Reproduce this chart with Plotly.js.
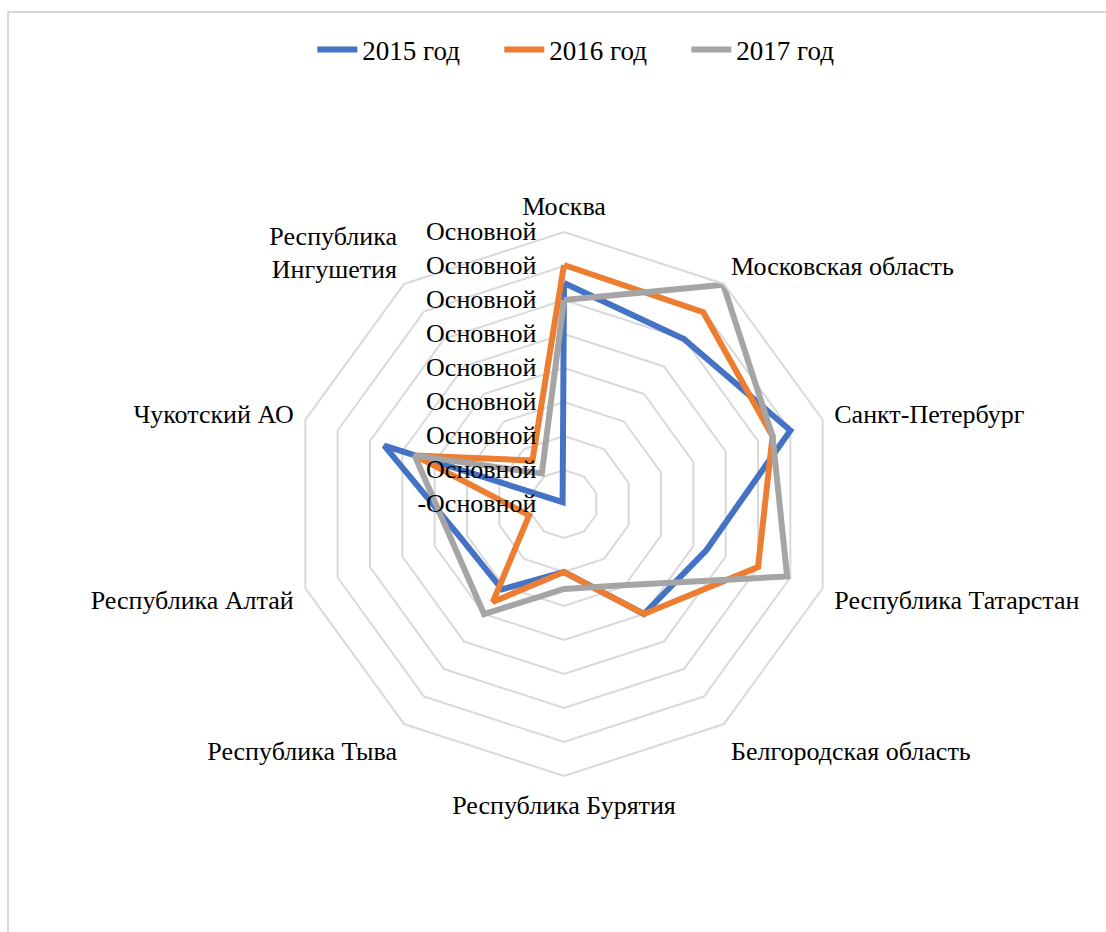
<!DOCTYPE html>
<html>
<head>
<meta charset="utf-8">
<script src="https://cdn.plot.ly/plotly-3.0.1.min.js"></script>
<style>
  html, body { margin:0; padding:0; background:#fff; overflow:hidden; }
  #frame { position:absolute; left:7px; top:11px; width:1200px; height:1000px; border:2px solid #d9d9d9; }
  #chart { position:absolute; left:0; top:0; width:1106px; height:932px; }
</style>
</head>
<body>
<div id="frame"></div>
<div id="chart"></div>
<script>
const categories = ["Москва", "Московская область", "Санкт-Петербург", "Республика Татарстан",
  "Белгородская область", "Республика Бурятия", "Республика Тыва", "Республика Алтай",
  "Чукотский АО", "Республика<br>Ингушетия"];
const seriesNames = ["2015 год", "2016 год", "2017 год"];
const values2015 = [55, 50, 60, 34, 30, 10, 21, 22, 45.6, -9.3];
const values2016 = [60.3, 59.7, 54.5, 50, 30, 10, 25.6, 0.8, 36.2, 5.8];
const values2017 = [50, 69.7, 54.5, 59, 19.5, 15, 30, 24.7, 36.2, 1.1];
const colors = ["#4472C4", "#ED7D31", "#A5A5A5"];
const tickVals = [-10, 0, 10, 20, 30, 40, 50, 60, 70];
const tickText = ["-Основной", "Основной", "Основной", "Основной", "Основной", "Основной", "Основной", "Основной", "Основной"];

const allSeries = [values2015, values2016, values2017];
const traces = allSeries.map((vals, i) => ({
  type: 'scatterpolar',
  mode: 'lines',
  name: seriesNames[i],
  r: vals.concat([vals[0]]),
  theta: categories.concat([categories[0]]),
  line: { color: colors[i], width: 6, shape: 'linear' },
  hoverinfo: 'skip'
}));

const W = 1106, H = 932;
const cx = 564, cy = 504, R = 272;
const FONT = 'Liberation Serif, Times New Roman, serif';
const layout = {
  width: W, height: H,
  margin: { l: 0, r: 0, t: 0, b: 0 },
  paper_bgcolor: 'rgba(0,0,0,0)',
  plot_bgcolor: 'rgba(0,0,0,0)',
  font: { family: FONT, size: 27, color: '#000' },
  showlegend: true,
  legend: {
    orientation: 'h', x: 0.536, xanchor: 'center', y: (H - 50) / H, yanchor: 'middle',
    font: { family: FONT, size: 27, color: '#000' }, itemwidth: 40, tracegroupgap: 0,
    entrywidth: 132, entrywidthmode: 'pixels'
  },
  polar: {
    domain: { x: [(cx - R) / W, (cx + R) / W], y: [(H - cy - R) / H, (H - cy + R) / H] },
    gridshape: 'linear',
    bgcolor: 'rgba(0,0,0,0)',
    angularaxis: {
      direction: 'clockwise', rotation: 90,
      showgrid: false, showline: true, linecolor: '#d9d9d9', linewidth: 2,
      ticks: 'outside', ticklen: 6, tickcolor: 'rgba(0,0,0,0)',
      tickfont: { family: FONT, size: 26, color: '#000' }
    },
    radialaxis: {
      range: [-10, 70], angle: 90, side: 'counterclockwise',
      tickvals: tickVals, ticktext: tickText, tickangle: 90,
      showline: false, ticks: 'outside', ticklen: 18, tickcolor: 'rgba(0,0,0,0)',
      gridcolor: '#d9d9d9', gridwidth: 2,
      tickfont: { family: FONT, size: 26, color: '#000' }
    }
  }
};

Plotly.newPlot('chart', traces, layout, { displayModeBar: false, staticPlot: true });
</script>
</body>
</html>
